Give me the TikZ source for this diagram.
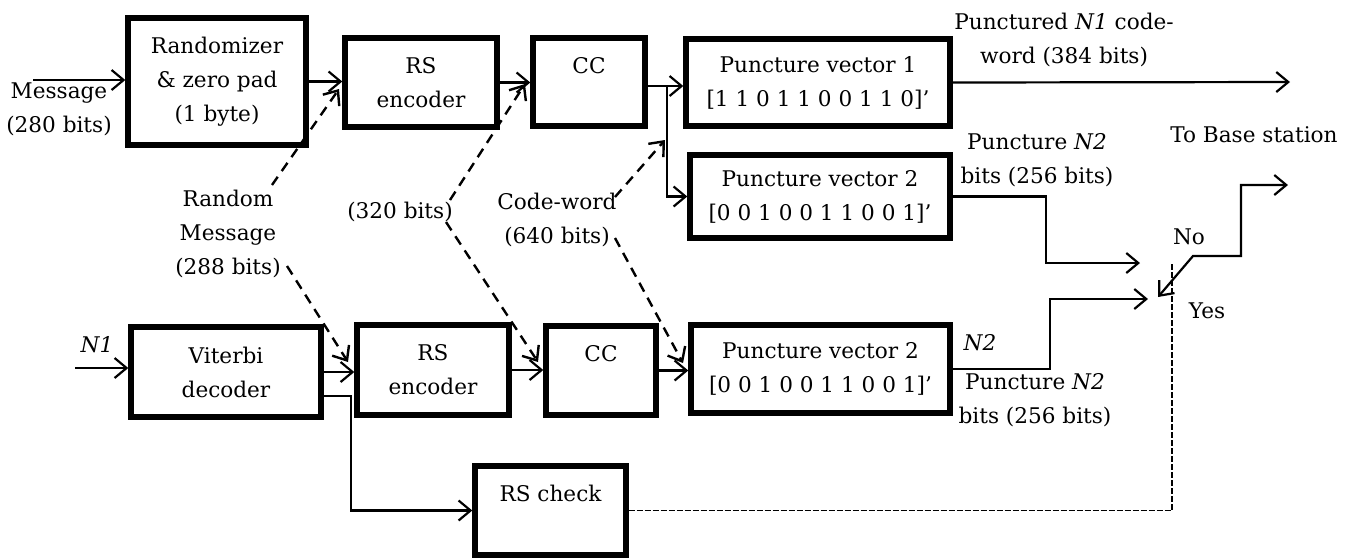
\documentclass[tikz,border=0pt]{standalone}
\usepackage{fontspec}
\setmainfont{DejaVu Serif}
\usetikzlibrary{arrows.meta,calc}
\begin{document}
\begin{tikzpicture}[x=0.5pt,y=-0.5pt,
  every node/.style={font=\fontsize{10.8}{17}\selectfont},
  blk/.style={draw,line width=2.7pt,align=center,inner sep=0pt},
  lbl/.style={align=center,inner sep=1pt},
  conn/.style={line width=1.1pt,-{Straight Barb[length=6pt,width=10pt]}},
  dconn/.style={line width=1.2pt,dash pattern=on 5pt off 3.5pt,-{Straight Barb[length=6pt,width=10pt]}},
  chk/.style={line width=0.7pt,dash pattern=on 3pt off 1pt}]
\useasboundingbox (0,0) rectangle (1356,559);
% boxes
\node[blk,minimum width=89pt,minimum height=63.5pt] (rand) at (217,81.5) {Randomizer\\\& zero pad\\(1 byte)};
\node[blk,minimum width=76pt,minimum height=44.5pt] (rs1) at (421,82.5) {RS\\encoder};
\node[blk,minimum width=56pt,minimum height=44pt] (cc1) at (589,82) {CC\\\mbox{}};
\node[blk,minimum width=132pt,minimum height=43.5pt] (pv1) at (818,82.5) {Puncture vector 1\\{}[1 1 0 1 1 0 0 1 1 0]'};
\node[blk,minimum width=130pt,minimum height=41.5pt] (pv2a) at (820,196.5) {Puncture vector 2\\{}[0 0 1 0 0 1 1 0 0 1]'};
\node[blk,minimum width=95pt,minimum height=45pt] (vit) at (226,372) {Viterbi\\decoder};
\node[blk,minimum width=76pt,minimum height=45pt] (rs2) at (433,370) {RS\\encoder};
\node[blk,minimum width=55pt,minimum height=44.5pt] (cc2) at (601,370.5) {CC\\\mbox{}};
\node[blk,minimum width=129.5pt,minimum height=44pt] (pv2b) at (820.5,369) {Puncture vector 2\\{}[0 0 1 0 0 1 1 0 0 1]'};
\node[blk,minimum width=75.5pt,minimum height=44.5pt] (rsc) at (550.5,510.5) {RS check\\\mbox{}};
% labels
\node[lbl] (msg) at (59,109.5) {Message\\(280 bits)};
\node[lbl] (rnd) at (228,234) {Random\\Message\\(288 bits)};
\node[lbl] (b320) at (400,212) {(320 bits)};
\node[lbl] (cw) at (557,220) {Code-word\\(640 bits)};
\node[lbl] (pn1) at (1064,39.5) {Punctured \textit{N1} code-\\word (384 bits)};
\node[lbl] (pn2a) at (1037,160) {Puncture \textit{N2}\\bits (256 bits)};
\node[lbl] (pn2b) at (1035,400.5) {Puncture \textit{N2}\\bits (256 bits)};
\node[lbl] (n2) at (980,343) {\textit{N2}};
\node[lbl] (n1) at (97,345) {\textit{N1}};
\node[lbl] (tbs) at (1254,135) {To Base station};
\node[lbl] (no) at (1189,237) {No};
\node[lbl] (yes) at (1207,311) {Yes};
% coordinates
\coordinate (msgin) at (33,80);
\coordinate (n1in) at (75,368);
\coordinate (sp) at (667,86);
\coordinate (o1) at (1290,82);
\coordinate (ina) at (1140,263);
\coordinate (inb) at (1148,299);
\coordinate (sw1) at (1158,297);
\coordinate (sw2) at (1193,256);
\coordinate (sw3) at (1241,185);
\coordinate (tb) at (1288,185);
\coordinate (ck) at (1172,263);
\coordinate (d1s) at (272,185); \coordinate (d1e) at (339,89);
\coordinate (d2s) at (287,266); \coordinate (d2e) at (348,362);
\coordinate (d3s) at (450,200); \coordinate (d3e) at (525,84);
\coordinate (d4s) at (446,222); \coordinate (d4e) at (538,362);
\coordinate (d5s) at (615,197); \coordinate (d5e) at (665,140);
\coordinate (d6s) at (615,238); \coordinate (d6e) at (683,363);
% connectors
\draw[conn] (msgin) -- (rand.west |- msgin);
\draw[conn] (rand.east) -- (rs1.west |- rand.east);
\draw[conn] (rs1.east) -- (cc1.west |- rs1.east);
\draw[conn] (cc1.east |- sp) -- (pv1.west |- sp);
\draw[conn] (sp) |- (pv2a.west);
\draw[conn] (pv1.east) -- (o1);
\draw[conn] (pv2a.east) -| ($(pv2a.east)!0.5!(ina)$) |- (ina);
\draw[conn] (pv2b.east) -- (1050,369) |- (inb);
\draw[{Straight Barb[length=6pt,width=10pt]}-{Straight Barb[length=6pt,width=10pt]},line width=1.1pt] (sw1) -- (sw2) -| (sw3) -- (tb);
\draw[conn] (n1in) -- (vit.west |- n1in);
\draw[conn] (vit.east) -- (rs2.west |- vit.east);
\draw[conn] (rs2.east) -- (cc2.west |- rs2.east);
\draw[conn] (cc2.east) -- (pv2b.west |- cc2.east);
\draw[conn] ([yshift=-12pt]vit.east) -- ++(27,0) |- (rsc.west);
\draw[chk] (rsc.east) -| (ck);
% dashed
\draw[dconn] (d1s) -- (d1e);
\draw[dconn] (d2s) -- (d2e);
\draw[dconn] (d3s) -- (d3e);
\draw[dconn] (d4s) -- (d4e);
\draw[dconn] (d5s) -- (d5e);
\draw[dconn] (d6s) -- (d6e);
\end{tikzpicture}
\end{document}
